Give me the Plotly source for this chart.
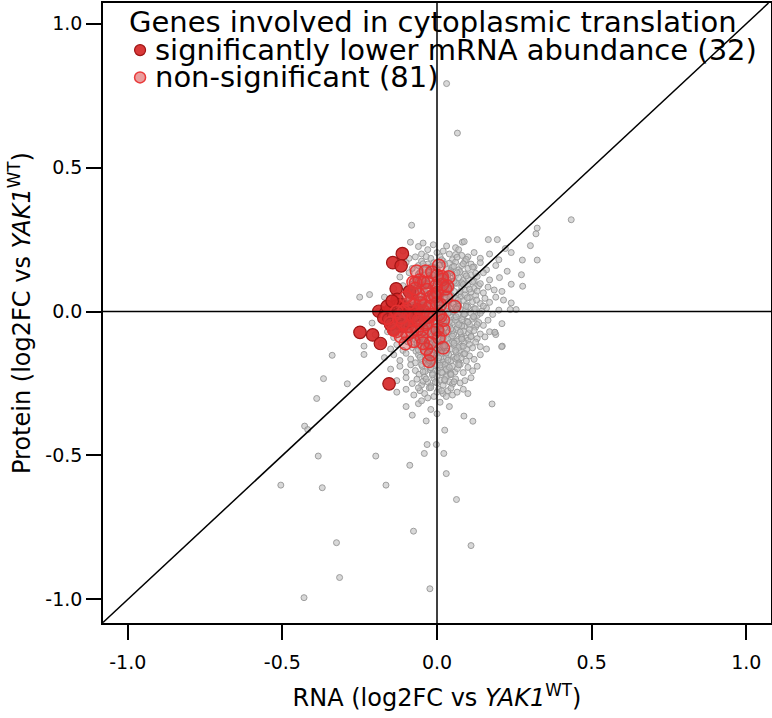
import plotly.graph_objects as go

# ---------------- data ----------------
# background genes: (RNA log2FC, Protein log2FC)
gray_band_a = [(-0.082,0.300),(-0.086,0.241),(-0.045,0.238),(-0.012,0.232),(0.031,0.228),(0.082,0.241),
               (0.088,0.243),(0.166,0.250),(0.195,0.250),(0.221,0.219),(0.060,0.222),(-0.060,0.226)]
gray_band_b = [(-0.11,0.21),(-0.07,0.19),(-0.05,0.20),(-0.03,0.215),(-0.02,0.185),(0.0,0.205),(0.01,0.19),
               (0.02,0.21),(0.04,0.20),(0.05,0.18),(0.07,0.215),(0.08,0.195),(0.10,0.19),(0.12,0.205),
               (0.14,0.185),(0.17,0.20),(0.20,0.18),(0.24,0.205),(-0.09,0.185),(0.06,0.198)]
gray_band_c = [(-0.10,0.17),(-0.08,0.15),(-0.06,0.16),(-0.05,0.175),(-0.04,0.145),(-0.03,0.165),(-0.02,0.155),
               (-0.01,0.17),(0.00,0.15),(0.01,0.162),(0.02,0.175),(0.03,0.148),(0.04,0.168),(0.05,0.155),
               (0.06,0.172),(0.07,0.145),(0.08,0.16),(0.09,0.175),(0.10,0.15),(0.11,0.165),(0.12,0.155),
               (0.14,0.17),(0.16,0.145),(0.19,0.16),(0.227,0.140),(0.276,0.179),(0.324,0.179),(0.045,0.142)]
gray_band_d = [(-0.12,0.12),(-0.09,0.135),(-0.07,0.11),(-0.06,0.13),(-0.05,0.125),(-0.04,0.105),(-0.03,0.138),
               (-0.02,0.115),(-0.015,0.128),(-0.005,0.108),(0.005,0.132),(0.012,0.118),(0.02,0.102),(0.03,0.128),
               (0.035,0.112),(0.045,0.135),(0.05,0.105),(0.06,0.125),(0.07,0.118),(0.075,0.138),(0.085,0.108),
               (0.09,0.13),(0.10,0.115),(0.11,0.128),(0.12,0.105),(0.13,0.122),(0.15,0.135),(0.17,0.11),
               (0.202,0.118),(0.273,0.128),(0.08,0.10),(0.04,0.102)]
gray_band_e = [(-0.14,0.08),(-0.11,0.09),(-0.09,0.07),(-0.08,0.095),(-0.065,0.065),(-0.055,0.085),(-0.045,0.075),
               (-0.035,0.098),(-0.028,0.062),(-0.018,0.088),(-0.008,0.072),(0.0,0.095),(0.008,0.068),(0.016,0.082),
               (0.024,0.092),(0.032,0.066),(0.04,0.078),(0.048,0.088),(0.056,0.07),(0.064,0.098),(0.072,0.062),
               (0.08,0.085),(0.09,0.075),(0.10,0.092),(0.11,0.068),(0.12,0.08),(0.135,0.09),(0.15,0.065),
               (0.165,0.085),(0.185,0.075),(0.21,0.07),(0.277,0.088),(0.24,0.095),(0.03,0.06),(0.06,0.1),(-0.02,0.064)]
gray_band_f = [(-0.25,0.05),(-0.218,0.059),(-0.17,0.05),(-0.13,0.04),(-0.10,0.03),(-0.085,0.055),(-0.07,0.025),
               (-0.06,0.045),(-0.05,0.035),(-0.04,0.058),(-0.032,0.022),(-0.024,0.048),(-0.016,0.032),(-0.008,0.054),
               (0.0,0.028),(0.006,0.042),(0.014,0.058),(0.022,0.024),(0.03,0.05),(0.038,0.036),(0.046,0.056),
               (0.054,0.026),(0.062,0.044),(0.07,0.03),(0.078,0.052),(0.086,0.038),(0.095,0.024),(0.105,0.048),
               (0.115,0.034),(0.125,0.056),(0.14,0.028),(0.155,0.046),(0.17,0.032),(0.19,0.05),(0.215,0.04),
               (0.24,0.03),(0.03,0.03),(0.06,0.046),(0.09,0.058),(-0.045,0.021)]
gray_band_g = [(-0.19,0.0),(-0.16,-0.01),(-0.14,0.012),(-0.12,-0.015),(-0.10,0.008),(-0.09,-0.005),(-0.08,0.016),
               (-0.07,-0.012),(-0.06,0.004),(-0.052,0.018),(-0.044,-0.008),(-0.036,0.01),(-0.028,-0.018),(-0.02,0.002),
               (-0.012,0.014),(-0.004,-0.01),(0.004,0.006),(0.012,-0.016),(0.02,0.012),(0.028,-0.004),(0.036,0.018),
               (0.044,-0.012),(0.052,0.0),(0.06,0.015),(0.068,-0.008),(0.076,0.008),(0.084,-0.018),(0.092,0.004),
               (0.10,0.016),(0.11,-0.006),(0.12,0.01),(0.13,-0.014),(0.145,0.002),(0.16,0.012),(0.18,-0.01),
               (0.20,0.005),(0.237,0.007),(0.256,0.007),(0.04,-0.002),(0.07,0.019),(0.01,0.0),(-0.03,-0.003),(0.09,-0.009)]
gray_band_h = [(-0.21,-0.04),(-0.17,-0.03),(-0.15,-0.05),(-0.13,-0.035),(-0.11,-0.055),(-0.095,-0.025),(-0.085,-0.045),
               (-0.075,-0.058),(-0.065,-0.032),(-0.055,-0.05),(-0.047,-0.022),(-0.039,-0.042),(-0.031,-0.056),
               (-0.023,-0.028),(-0.015,-0.046),(-0.007,-0.036),(0.001,-0.054),(0.009,-0.024),(0.017,-0.044),
               (0.025,-0.058),(0.033,-0.03),(0.041,-0.05),(0.049,-0.038),(0.057,-0.022),(0.065,-0.056),(0.073,-0.04),
               (0.081,-0.028),(0.089,-0.052),(0.097,-0.034),(0.105,-0.046),(0.115,-0.026),(0.125,-0.054),(0.135,-0.038),
               (0.15,-0.048),(0.165,-0.03),(0.187,-0.072),(0.21,-0.042),(0.03,-0.04),(0.06,-0.03),(0.0,-0.032),
               (-0.04,-0.038),(0.08,-0.05),(0.12,-0.02),(-0.02,-0.058)]
gray_band_i = [(-0.20,-0.08),(-0.16,-0.07),(-0.14,-0.09),(-0.12,-0.075),(-0.105,-0.095),(-0.09,-0.065),(-0.08,-0.085),
               (-0.07,-0.098),(-0.06,-0.07),(-0.05,-0.088),(-0.042,-0.062),(-0.034,-0.082),(-0.026,-0.096),(-0.018,-0.068),
               (-0.01,-0.086),(-0.002,-0.076),(0.006,-0.094),(0.014,-0.064),(0.022,-0.084),(0.03,-0.098),(0.038,-0.07),
               (0.046,-0.09),(0.054,-0.078),(0.062,-0.062),(0.07,-0.096),(0.078,-0.08),(0.086,-0.068),(0.094,-0.092),
               (0.102,-0.074),(0.11,-0.086),(0.12,-0.066),(0.13,-0.094),(0.14,-0.078),(0.155,-0.088),(0.17,-0.07),
               (0.19,-0.08),(0.02,-0.08),(0.05,-0.066),(0.08,-0.09),(-0.03,-0.072),(0.0,-0.062),(0.1,-0.1),
               (-0.065,-0.09),(0.035,-0.095)]
gray_band_j = [(-0.236,-0.12),(-0.18,-0.11),(-0.15,-0.13),(-0.13,-0.115),(-0.11,-0.135),(-0.095,-0.105),(-0.08,-0.125),
               (-0.068,-0.138),(-0.058,-0.11),(-0.048,-0.128),(-0.04,-0.102),(-0.032,-0.122),(-0.024,-0.136),
               (-0.016,-0.108),(-0.008,-0.126),(0.0,-0.116),(0.008,-0.134),(0.016,-0.104),(0.024,-0.124),(0.032,-0.138),
               (0.04,-0.11),(0.048,-0.13),(0.056,-0.118),(0.064,-0.102),(0.072,-0.136),(0.08,-0.12),(0.088,-0.108),
               (0.096,-0.132),(0.105,-0.114),(0.115,-0.126),(0.125,-0.106),(0.14,-0.122),(0.16,-0.13),(0.211,-0.12),
               (0.02,-0.12),(0.05,-0.105),(-0.02,-0.115),(0.07,-0.125),(-0.06,-0.12),(0.01,-0.14)]
gray_band_k = [(-0.339,-0.152),(-0.17,-0.16),(-0.14,-0.15),(-0.12,-0.17),(-0.10,-0.145),(-0.085,-0.165),(-0.07,-0.178),
               (-0.06,-0.15),(-0.05,-0.168),(-0.042,-0.142),(-0.034,-0.162),(-0.026,-0.176),(-0.018,-0.148),(-0.01,-0.166),
               (-0.002,-0.156),(0.006,-0.174),(0.014,-0.144),(0.022,-0.164),(0.03,-0.178),(0.038,-0.15),(0.046,-0.17),
               (0.054,-0.158),(0.062,-0.142),(0.07,-0.176),(0.078,-0.16),(0.086,-0.148),(0.095,-0.172),(0.105,-0.154),
               (0.12,-0.166),(0.14,-0.15),(0.0,-0.145),(0.03,-0.16),(-0.03,-0.155),(0.06,-0.165),(0.02,-0.175),(-0.015,-0.17)]
gray_band_l = [(-0.15,-0.2),(-0.12,-0.19),(-0.10,-0.21),(-0.085,-0.185),(-0.07,-0.205),(-0.058,-0.218),(-0.048,-0.19),
               (-0.038,-0.208),(-0.03,-0.182),(-0.022,-0.202),(-0.014,-0.216),(-0.006,-0.188),(0.002,-0.206),(0.01,-0.196),
               (0.018,-0.214),(0.026,-0.184),(0.034,-0.204),(0.042,-0.218),(0.05,-0.19),(0.058,-0.21),(0.066,-0.198),
               (0.075,-0.184),(0.085,-0.212),(0.1,-0.194),(0.115,-0.206),(0.13,-0.19),(0.0,-0.185),(0.03,-0.2),
               (-0.02,-0.195),(0.045,-0.215)]
gray_band_m = [(-0.367,-0.233),(-0.29,-0.251),(-0.13,-0.24),(-0.10,-0.23),(-0.08,-0.25),(-0.065,-0.235),(-0.05,-0.255),
               (-0.04,-0.228),(-0.03,-0.245),(-0.02,-0.258),(-0.01,-0.232),(0.0,-0.248),(0.01,-0.238),(0.02,-0.256),
               (0.03,-0.226),(0.04,-0.244),(0.05,-0.252),(0.06,-0.234),(0.075,-0.248),(0.09,-0.24),(0.11,-0.23),
               (0.0,-0.226),(0.025,-0.24),(-0.045,-0.242)]
gray_band_n = [(-0.13,-0.28),(-0.10,-0.27),(-0.075,-0.29),(-0.055,-0.275),(-0.04,-0.285),(-0.025,-0.265),(-0.01,-0.295),
               (0.005,-0.27),(0.02,-0.285),(0.035,-0.275),(0.05,-0.29),(0.065,-0.28),(0.085,-0.27),(0.0,-0.28),
               (-0.03,-0.3),(0.03,-0.295),(-0.06,-0.265),(0.1,-0.285)]
gray_core = [(-0.035,0.191),(0.015,0.180),(0.065,0.189),(0.095,0.181),
             (-0.045,0.166),(-0.015,0.155),(0.025,0.164),(0.055,0.157),(0.085,0.166),(0.115,0.154),
             (-0.055,0.136),(-0.025,0.125),(0.005,0.134),(0.035,0.126),(0.065,0.135),(0.095,0.124),(0.125,0.133),
             (-0.06,0.106),(-0.03,0.095),(0.0,0.104),(0.028,0.096),(0.055,0.105),(0.085,0.094),(0.115,0.103),(0.14,0.097),
             (-0.07,0.081),(-0.04,0.070),(-0.012,0.079),(0.02,0.071),(0.045,0.080),(0.075,0.069),(0.105,0.078),(0.13,0.071),
             (-0.075,0.051),(-0.045,0.040),(-0.018,0.049),(0.01,0.041),(0.042,0.050),(0.068,0.039),(0.098,0.048),(0.128,0.040),
             (-0.08,0.021),(-0.05,0.010),(-0.022,0.019),(0.008,0.011),(0.032,0.020),(0.064,0.009),(0.094,0.018),(0.124,0.010),(0.15,0.019),
             (-0.085,-0.006),(-0.055,-0.017),(-0.025,-0.008),(0.005,-0.016),(0.035,-0.007),(0.062,-0.018),(0.088,-0.009),(0.118,-0.017),(0.14,-0.006),
             (-0.08,-0.034),(-0.05,-0.045),(-0.02,-0.036),(0.01,-0.044),(0.04,-0.035),(0.07,-0.046),(0.1,-0.037),(0.13,-0.045),
             (-0.075,-0.059),(-0.045,-0.070),(-0.015,-0.061),(0.015,-0.069),(0.045,-0.060),(0.075,-0.071),(0.105,-0.062),
             (-0.07,-0.084),(-0.04,-0.095),(-0.01,-0.086),(0.02,-0.094),(0.05,-0.085),(0.08,-0.096),(0.11,-0.087),
             (-0.065,-0.109),(-0.035,-0.120),(-0.005,-0.111),(0.025,-0.119),(0.055,-0.110),(0.085,-0.121),
             (-0.06,-0.134),(-0.03,-0.145),(0.0,-0.136),(0.03,-0.144),(0.06,-0.135),(0.09,-0.146),
             (-0.055,-0.159),(-0.025,-0.170),(0.005,-0.161),(0.035,-0.169),(0.065,-0.160),
             (-0.05,-0.184),(-0.02,-0.195),(0.01,-0.186),(0.04,-0.194),(0.07,-0.185),
             (-0.045,-0.209),(-0.015,-0.220),(0.015,-0.211),(0.045,-0.219),
             (-0.035,-0.234),(-0.005,-0.245),(0.025,-0.236),(0.055,-0.244),
             (-0.02,-0.264),(0.015,-0.275),(0.045,-0.266)]
gray_outliers = [(-0.389,-0.302),(-0.428,-0.398),(-0.418,-0.41),(-0.384,-0.502),(-0.505,-0.603),(-0.371,-0.612),
                 (-0.165,-0.603),(-0.198,-0.502),(-0.325,-0.803),(-0.315,-0.924),(-0.430,-0.994),(-0.023,-0.963),
                 (-0.076,-0.763),(0.110,-0.813),(0.063,-0.653),(0.030,-0.563),(-0.088,-0.534),(-0.032,-0.462),
                 (-0.002,-0.462),(-0.041,-0.493),(0.022,-0.493),(0.025,-0.412),(0.116,-0.381),(0.087,-0.363),
                 (0.178,-0.321),(-0.10,-0.33),(-0.06,-0.32),(-0.02,-0.34),(0.01,-0.315),(0.04,-0.33),(-0.08,-0.36),
                 (-0.035,-0.38),(-0.05,-0.31),(0.0,-0.355),(0.031,0.792),(0.066,0.620),(0.434,0.319),(0.324,0.290),
                 (0.320,0.270),(0.302,0.229),(0.209,-0.122),(0.187,-0.072),(-0.236,-0.149)]

# cytoplasmic translation genes, significantly lower mRNA abundance (32)
sig_points = [(-0.112,0.201),(-0.143,0.170),(-0.116,0.159),(-0.132,0.079),(-0.089,0.069),(-0.129,0.042),
              (-0.249,-0.072),(-0.208,-0.081),(-0.183,-0.111),(-0.155,-0.251),(-0.188,0.001),(-0.166,-0.005),
              (-0.150,0.007),(-0.134,0.018),(-0.118,0.024),(-0.102,0.013),(-0.086,-0.005),(-0.172,-0.022),
              (-0.156,-0.028),(-0.140,-0.016),(-0.124,-0.010),(-0.107,-0.022),(-0.150,-0.045),(-0.128,-0.039),
              (-0.112,-0.051),(-0.091,-0.034),(-0.075,-0.016),(-0.161,0.018),(-0.145,0.036),(-0.064,0.007),
              (-0.140,-0.063),(-0.096,-0.010)]

# cytoplasmic translation genes, non-significant (81)
nonsig_points = [(0.006,0.160),(-0.066,0.140),(-0.037,0.140),(-0.077,0.102),(-0.056,0.109),(-0.030,0.102),
                 (0.001,0.125),(0.017,0.120),(0.038,0.120),(-0.002,0.090),(0.027,0.079),(-0.010,0.059),
                 (0.017,0.094),(0.057,0.018),(-0.023,0.018),(-0.053,0.030),(-0.080,0.042),(-0.043,0.001),
                 (-0.021,-0.010),(0.011,-0.016),(-0.069,-0.016),(-0.059,-0.039),(-0.086,-0.051),(-0.129,-0.068),
                 (-0.096,-0.080),(-0.102,-0.111),(0.001,-0.063),(0.006,-0.091),(0.020,-0.126),(-0.034,-0.130),
                 (-0.021,-0.149),(-0.026,-0.173),(-0.048,-0.063),(-0.032,-0.039),(-0.016,0.137),(0.017,0.111),
                 (0.033,0.088),(-0.043,0.100),(-0.069,0.100),(-0.005,0.053),(0.011,0.024),(-0.080,0.065),
                 (-0.075,0.024),(-0.053,0.042),(-0.032,0.076),(0.006,-0.010),(-0.021,-0.016),(-0.048,-0.005),
                 (-0.086,-0.016),(-0.107,0.001),(-0.123,-0.028),(-0.096,-0.051),(-0.064,-0.063),(-0.037,-0.045),
                 (-0.010,-0.074),(-0.021,-0.109),(-0.075,-0.103),(-0.118,-0.086),(-0.140,-0.063),(-0.150,-0.039),
                 (-0.161,-0.022),(0.022,-0.063),(0.001,0.065),(-0.09,0.03),(-0.06,0.06),(-0.04,0.02),
                 (-0.02,0.05),(-0.13,0.0),(-0.11,-0.04),(-0.08,-0.07),(-0.05,-0.09),(-0.03,-0.02),
                 (0.0,0.03),(-0.06,-0.03),(-0.10,0.05),(0.02,-0.03),(-0.07,0.08),(0.03,0.05),
                 (-0.115,-0.02),(-0.045,-0.11)]

legend_title = "Genes involved in cytoplasmic translation"
sig_label = "significantly lower mRNA abundance (32)"
nonsig_label = "non-significant (81)"
tick_vals = [-1.0, -0.5, 0.0, 0.5, 1.0]
tick_text = ["-1.0", "-0.5", "0.0", "0.5", "1.0"]
axis_range_x = [-1.08, 1.08]
axis_range_y = [-1.082, 1.072]

# ---------------- figure ----------------
gray_points = (gray_band_a + gray_band_b + gray_band_c + gray_band_d + gray_band_e + gray_band_f +
               gray_band_g + gray_band_h + gray_band_i + gray_band_j + gray_band_k + gray_band_l +
               gray_band_m + gray_band_n + gray_core + gray_outliers)

def split(pts):
    return [p[0] for p in pts], [p[1] for p in pts]

gx, gy = split(gray_points)
sx, sy = split(sig_points)
nx, ny = split(nonsig_points)

FONT = "DejaVu Sans"
RED = "rgba(214,40,40,0.92)"

fig = go.Figure()
fig.add_trace(go.Scatter(x=gx, y=gy, mode="markers", showlegend=False, hoverinfo="skip",
                         marker=dict(size=6, color="rgba(190,190,190,0.6)",
                                     line=dict(color="rgba(150,150,150,0.9)", width=1))))
fig.add_trace(go.Scatter(x=sx, y=sy, mode="markers", name=sig_label, showlegend=False,
                         marker=dict(size=12.5, color=RED, line=dict(color="#9e1414", width=1.2))))
fig.add_trace(go.Scatter(x=nx, y=ny, mode="markers", name=nonsig_label, showlegend=False,
                         marker=dict(size=12.5, color="rgba(214,60,60,0.38)",
                                     line=dict(color="rgba(232,50,50,0.95)", width=1.5))))

line_style = dict(color="black", width=1.5)
fig.add_shape(type="line", xref="x", yref="y", x0=0, x1=0, y0=axis_range_y[0], y1=axis_range_y[1],
              line=line_style, layer="above")
fig.add_shape(type="line", xref="x", yref="y", x0=axis_range_x[0], x1=axis_range_x[1], y0=0, y1=0,
              line=line_style, layer="above")
fig.add_shape(type="line", xref="x", yref="y", x0=axis_range_x[0], y0=axis_range_x[0],
              x1=axis_range_y[1], y1=axis_range_y[1], line=line_style, layer="above")

# legend drawn as annotations + symbol shapes
fig.add_annotation(xref="paper", yref="paper", x=0.036, y=0.969, xanchor="left", yanchor="middle",
                   text=legend_title, showarrow=False, font=dict(family=FONT, size=29, color="black"))
fig.add_annotation(xref="paper", yref="paper", x=0.075, y=0.924, xanchor="left", yanchor="middle",
                   text=sig_label, showarrow=False, font=dict(family=FONT, size=29, color="black"))
fig.add_annotation(xref="paper", yref="paper", x=0.075, y=0.880, xanchor="left", yanchor="middle",
                   text=nonsig_label, showarrow=False, font=dict(family=FONT, size=29, color="black"))
fig.add_shape(type="circle", xref="paper", yref="paper", xsizemode="pixel", ysizemode="pixel",
              xanchor=0.0555, yanchor=0.924, x0=-5.5, x1=5.5, y0=-5.5, y1=5.5,
              fillcolor=RED, line=dict(color="#9e1414", width=1.2))
fig.add_shape(type="circle", xref="paper", yref="paper", xsizemode="pixel", ysizemode="pixel",
              xanchor=0.0555, yanchor=0.880, x0=-5.5, x1=5.5, y0=-5.5, y1=5.5,
              fillcolor="rgba(214,60,60,0.5)", line=dict(color="rgba(232,50,50,0.95)", width=1.5))

axis_common = dict(showgrid=False, zeroline=False, showline=True, mirror=True, linecolor="black",
                   linewidth=1.5, ticks="outside", ticklen=15, tickwidth=1.5, tickcolor="black",
                   automargin=False,
                   tickvals=tick_vals, ticktext=tick_text, tickfont=dict(family=FONT, size=19, color="black"))
fig.update_xaxes(range=axis_range_x, ticklabelstandoff=6,
                 title=dict(text="RNA (log2FC vs <i>YAK1</i><sup>WT</sup>)", standoff=18,
                            font=dict(family=FONT, size=24, color="black")), **axis_common)
fig.update_yaxes(range=axis_range_y, ticklabelstandoff=0,
                 title=dict(text="Protein (log2FC vs <i>YAK1</i><sup>WT</sup>)", standoff=8,
                            font=dict(family=FONT, size=24, color="black")), **axis_common)
fig.update_layout(width=772, height=718, margin=dict(l=103, r=1, t=3, b=95),
                  plot_bgcolor="white", paper_bgcolor="white", font=dict(family=FONT))
fig.write_html("out.html", config={"displayModeBar": False},
               post_script="document.body.style.margin='0';document.body.style.overflow='hidden';")
